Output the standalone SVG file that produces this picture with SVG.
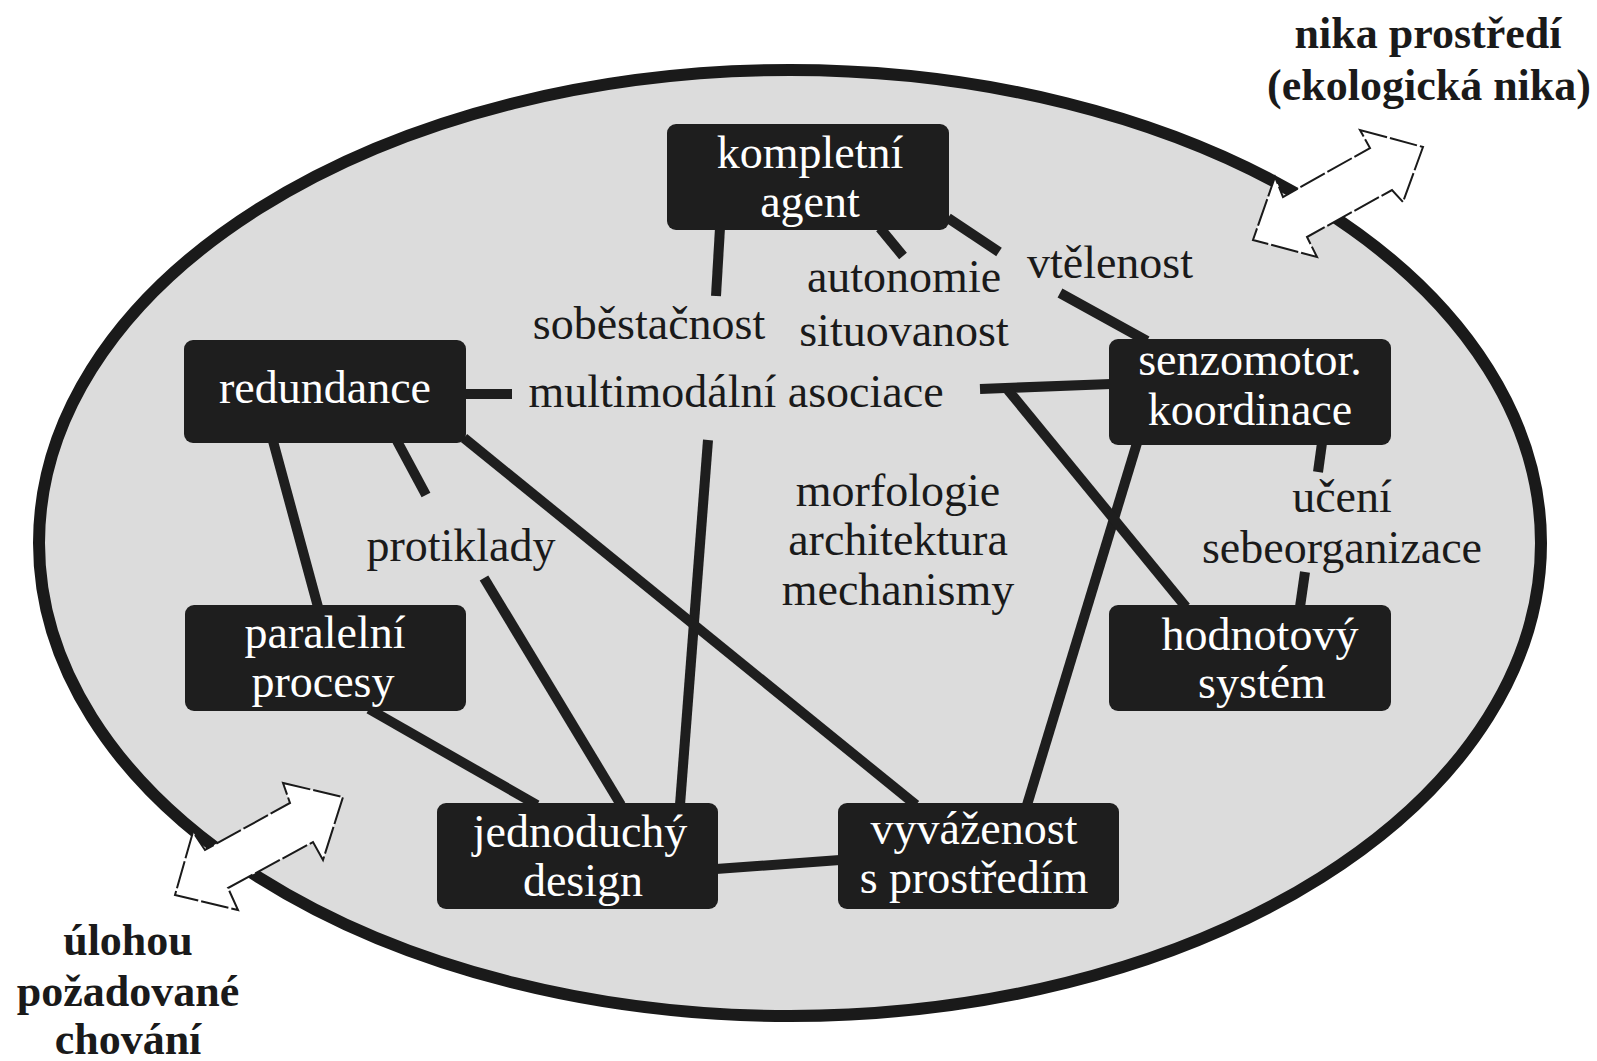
<svg xmlns="http://www.w3.org/2000/svg" width="1597" height="1061" viewBox="0 0 1597 1061">
<defs>
<style>
.bg{fill:#ffffff}
.ell{fill:#dcdcdc;stroke:#1a1a1a;stroke-width:12}
.box{fill:#1e1e1e}
.bt{font-family:"Liberation Serif","Times New Roman",serif;font-size:46px;fill:#ffffff;text-anchor:middle}
.lb{font-family:"Liberation Serif","Times New Roman",serif;font-size:46px;fill:#1a1a1a;text-anchor:middle}
.ob{font-family:"Liberation Serif","Times New Roman",serif;font-size:44px;font-weight:bold;fill:#1a1a1a;text-anchor:middle}
.con line{stroke:#1e1e1e;stroke-width:10;stroke-linecap:butt}
.arr{fill:#ffffff;stroke:#1a1a1a;stroke-width:2;stroke-dasharray:28 3;stroke-linejoin:miter}
</style>
</defs>
<rect class="bg" x="0" y="0" width="1597" height="1061"/>
<ellipse id="niche" class="ell" cx="790" cy="543" rx="751" ry="473"/>

<g id="arrow-niche">
<polygon class="arr" points="1360,130 1423,147 1403,202 1392,190 1307,237 1317,257 1253,240 1275,177 1283,197 1370,148"/>
</g>
<g id="arrow-task">
<polygon class="arr" points="283,783 343,797 323,860 313,842 228,888 238,910 175,895 193,832 205,850 290,803"/>
</g>

<g id="connectors" class="con">
<line x1="720" y1="228" x2="716" y2="296"/>
<line x1="880" y1="228" x2="903" y2="256"/>
<line x1="948" y1="218" x2="999" y2="252"/>
<line x1="1060" y1="293" x2="1147" y2="341"/>
<line x1="464" y1="394" x2="512" y2="394"/>
<line x1="980" y1="389" x2="1111" y2="384"/>
<line x1="708" y1="440" x2="680" y2="805"/>
<line x1="397" y1="441" x2="426" y2="495"/>
<line x1="273" y1="441" x2="318" y2="607"/>
<line x1="464" y1="438" x2="916" y2="805"/>
<line x1="484" y1="578" x2="621" y2="805"/>
<line x1="369" y1="709" x2="537" y2="805"/>
<line x1="716" y1="869" x2="840" y2="860"/>
<line x1="1137" y1="443" x2="1027" y2="805"/>
<line x1="1008" y1="390" x2="1186" y2="607"/>
<line x1="1322" y1="443" x2="1318" y2="472"/>
<line x1="1305" y1="572" x2="1300" y2="607"/>
</g>

<g id="kompletni-agent">
<rect class="box" x="667" y="124" width="282" height="106" rx="9"/>
<text class="bt" x="810" y="168">kompletní</text>
<text class="bt" x="810" y="217">agent</text>
</g>
<g id="redundance">
<rect class="box" x="184" y="340" width="282" height="103" rx="9"/>
<text class="bt" x="325" y="403">redundance</text>
</g>
<g id="paralelni-procesy">
<rect class="box" x="185" y="605" width="281" height="106" rx="9"/>
<text class="bt" x="325" y="648">paralelní</text>
<text class="bt" x="323" y="697">procesy</text>
</g>
<g id="senzomotor-koordinace">
<rect class="box" x="1109" y="339" width="282" height="106" rx="9"/>
<text class="bt" x="1250" y="375">senzomotor.</text>
<text class="bt" x="1250" y="425">koordinace</text>
</g>
<g id="hodnotovy-system">
<rect class="box" x="1109" y="605" width="282" height="106" rx="9"/>
<text class="bt" x="1260" y="650">hodnotový</text>
<text class="bt" x="1262" y="698">systém</text>
</g>
<g id="jednoduchy-design">
<rect class="box" x="437" y="803" width="281" height="106" rx="9"/>
<text class="bt" x="580" y="847">jednoduchý</text>
<text class="bt" x="583" y="896">design</text>
</g>
<g id="vyvazenost">
<rect class="box" x="838" y="803" width="281" height="106" rx="9"/>
<text class="bt" x="974" y="844">vyváženost</text>
<text class="bt" x="974" y="893">s prostředím</text>
</g>

<g id="labels">
<text class="lb" x="649" y="339">soběstačnost</text>
<text class="lb" x="904" y="292">autonomie</text>
<text class="lb" x="904" y="346">situovanost</text>
<text class="lb" x="1110" y="278">vtělenost</text>
<text class="lb" x="736" y="407">multimodální asociace</text>
<text class="lb" x="461" y="561">protiklady</text>
<text class="lb" x="898" y="506">morfologie</text>
<text class="lb" x="898" y="555">architektura</text>
<text class="lb" x="898" y="605">mechanismy</text>
<text class="lb" x="1342" y="512">učení</text>
<text class="lb" x="1342" y="563">sebeorganizace</text>
</g>

<g id="outer-labels">
<text class="ob" x="1428" y="48">nika prostředí</text>
<text class="ob" x="1429" y="100">(ekologická nika)</text>
<text class="ob" x="128" y="955">úlohou</text>
<text class="ob" x="128" y="1006">požadované</text>
<text class="ob" x="128" y="1054">chování</text>
</g>
</svg>
